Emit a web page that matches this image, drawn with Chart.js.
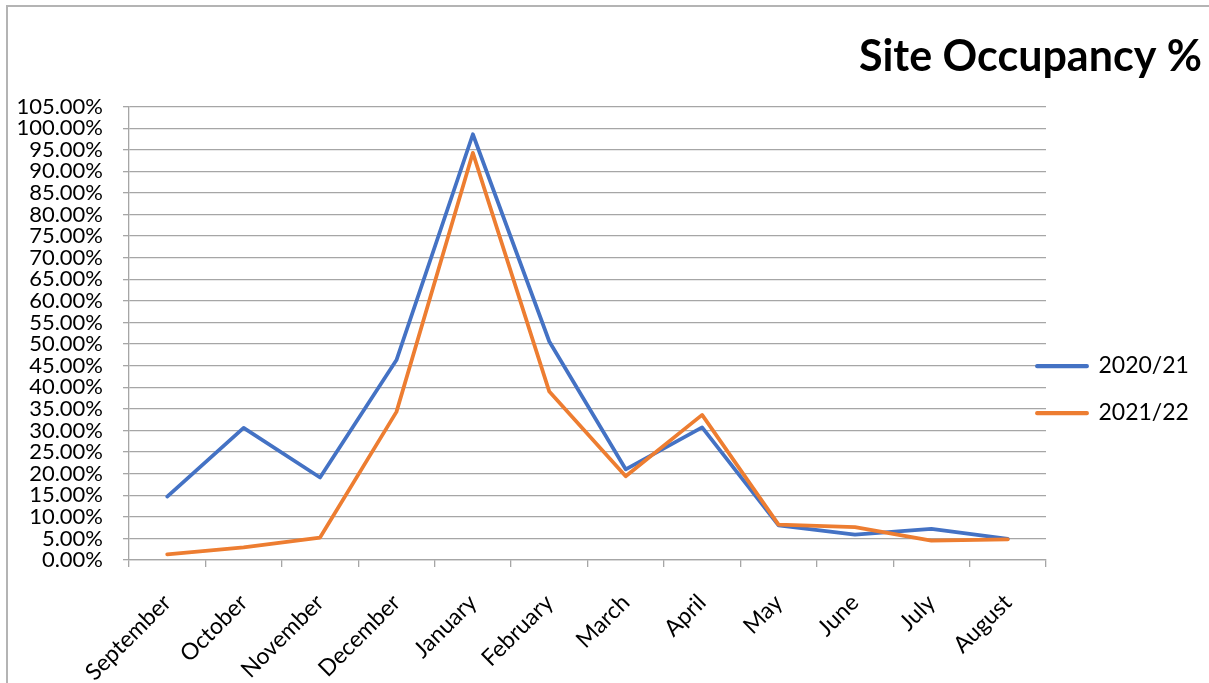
<!DOCTYPE html>
<html><head><meta charset="utf-8">
<script src="https://cdn.jsdelivr.net/npm/chart.js@4.4.1/dist/chart.umd.min.js"></script>
<style>
html,body{margin:0;padding:0;background:#fff;overflow:hidden;width:1209px;height:683px;}
#frame{position:absolute;left:6px;top:5px;width:1300px;height:800px;border-left:2px solid #b4b4b4;border-top:2px solid #b4b4b4;}
#c{position:absolute;left:0;top:0;}
</style></head><body>
<div id="frame"></div>
<canvas id="c" width="1209" height="683"></canvas>
<script>
const categories = ['September','October','November','December','January','February','March','April','May','June','July','August'];
const seriesNames = ['2020/21','2021/22'];
const occupancy2020 = [14.7, 30.6, 19.1, 46.3, 98.6, 50.6, 21.0, 30.7, 8.0, 5.9, 7.2, 4.9];
const occupancy2021 = [1.3, 2.9, 5.2, 34.3, 94.3, 39.0, 19.4, 33.6, 8.2, 7.6, 4.5, 4.8];
const yTickMin = 0, yTickMax = 105, yTickStep = 5;
const titleText = 'Site Occupancy %';

const BLUE = '#4472C4', ORANGE = '#ED7D31', GRID = '#a6a6a6';
const FONT = 'Lato, "Open Sans", sans-serif';

const legendShift = {
  id: 'legendShift',
  afterLayout(chart) {
    const l = chart.legend;
    if (!l) return;
    const dx = 1037 - (chart.chartArea.right + 24);
    const dy = 48;
    l.left += dx; l.top += dy; l.bottom += dy;
  }
};

new Chart(document.getElementById('c'), {
  type: 'line',
  data: {
    labels: categories,
    datasets: [
      { label: seriesNames[0], data: occupancy2020, borderColor: BLUE, backgroundColor: BLUE,
        borderWidth: 3.75, pointRadius: 0, tension: 0, borderJoinStyle: 'round', borderCapStyle: 'round', order: 1 },
      { label: seriesNames[1], data: occupancy2021, borderColor: ORANGE, backgroundColor: ORANGE,
        borderWidth: 3.75, pointRadius: 0, tension: 0, borderJoinStyle: 'round', borderCapStyle: 'round', order: 0 }
    ]
  },
  options: {
    responsive: false,
    animation: false,
    layout: { padding: { left: 0, right: 7, top: 0, bottom: 0 } },
    plugins: {
      tooltip: { enabled: false },
      title: {
        display: true, text: titleText, align: 'end', color: '#000',
        font: { family: FONT, size: 43, weight: 'bold' },
        padding: { top: 31, bottom: 24 }
      },
      legend: {
        position: 'right',
        maxWidth: 156,
        labels: {
          color: '#000', font: { family: FONT, size: 23 },
          boxWidth: 50, boxHeight: 0.5, padding: 24,
          sort: (a, b) => a.datasetIndex - b.datasetIndex
        }
      }
    },
    scales: {
      x: {
        offset: true,
        afterFit: s => { s.height = 123; },
        grid: { offset: true, drawOnChartArea: false, drawTicks: true, tickLength: 7, color: GRID, lineWidth: 1.3 },
        border: { display: true, color: GRID, width: 1.3 },
        ticks: { color: '#000', font: { family: FONT, size: 23 }, minRotation: 45, maxRotation: 45, padding: 22, autoSkip: false }
      },
      y: {
        min: yTickMin, max: yTickMax,
        afterFit: s => { s.width = 129; },
        grid: { color: GRID, lineWidth: 1.3, tickLength: 6, drawTicks: true },
        border: { display: true, color: GRID, width: 1.3 },
        ticks: { stepSize: yTickStep, color: '#000', font: { family: FONT, size: 22 }, padding: 20, autoSkip: false,
          callback: v => v.toFixed(2) + '%' }
      }
    }
  },
  plugins: [legendShift]
});
</script>
</body></html>
